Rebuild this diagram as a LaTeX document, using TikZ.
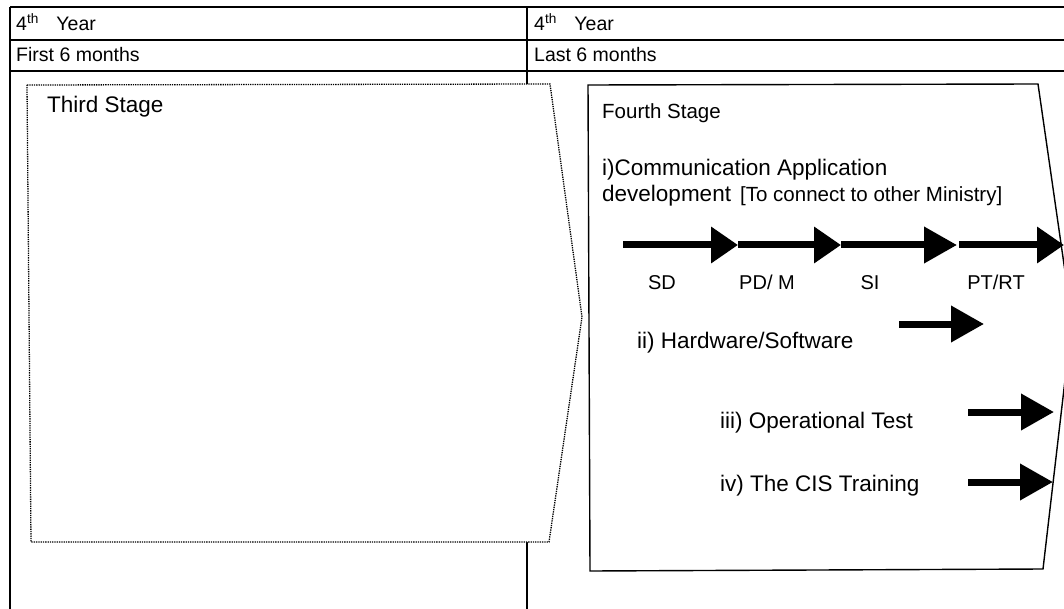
\documentclass[tikz,border=0pt]{standalone}
\usepackage{fontspec}
\setmainfont{Liberation Sans}
\usetikzlibrary{arrows.meta}
\begin{document}
\begin{tikzpicture}[x=1pt,y=-1pt,
  grid/.style={line width=1.3pt,black},
  hdr/.style={anchor=base west,inner sep=0pt,font=\fontsize{19.5}{22}\selectfont},
  big/.style={anchor=base west,inner sep=0pt,font=\fontsize{22.5}{26}\selectfont},
  mid/.style={anchor=base west,inner sep=0pt,font=\fontsize{20.5}{24}\selectfont},
  lab/.style={anchor=base,inner sep=0pt,font=\fontsize{20}{24}\selectfont},
  small/.style={anchor=base west,inner sep=0pt,font=\fontsize{20.5}{24}\selectfont},
  fat/.style={line width=7pt,-{Triangle[length=#1 0 0,width=35pt 0 0]}},
  fat/.default=27pt
]
\useasboundingbox (0,0) rectangle (1064,609);
\clip (0,0) rectangle (1064,609);
% table grid
\draw[grid] (10,7) -- (1064,7);
\draw[grid] (10,40) -- (1064,40);
\draw[grid] (10,71) -- (1064,71);
\draw[grid] (10,7) -- (10,609);
\draw[grid] (527,7) -- (527,609);
\node[hdr] (y1) at (16,31) {4\textsuperscript{th}\hspace{0.9em}Year};
\node[hdr] (m1) at (16,62) {First 6 months};
\node[hdr] (y2) at (534,31) {4\textsuperscript{th}\hspace{0.9em}Year};
\node[hdr] (m2) at (534,62) {Last 6 months};
% third stage (dotted pentagon)
\draw[densely dotted,line width=1.3pt,fill=white] (27,85) -- (550,84) -- (582,317) -- (549,542) -- (31,542) -- cycle;
\node[big] (t3) at (47,113) {Third Stage};
% fourth stage
\draw[line width=1.4pt,fill=white] (588,85) -- (1038,84) -- (1072,320) -- (1043,569) -- (590,571) -- cycle;
\node[mid] (t4) at (602,119) {Fourth Stage};
\node[big] (c1) at (602,176) {i)Communication Application};
\node[big] (c2) at (602,202) {development};
\node[small] (c3) at (740,202) {[To connect to other Ministry]};
% chain of arrows
\coordinate (a0) at (623,245);
\coordinate (a1) at (738,245);
\coordinate (a2) at (841,245);
\coordinate (a3) at (957,245);
\coordinate (a3b) at (959,245);
\coordinate (a4) at (1064,245);
\draw[fat] (a0) -- (a1);
\draw[fat] (a1) -- (a2);
\draw[fat=33pt] (a2) -- (a3);
\draw[fat] (a3b) -- (a4);
\node[lab] (sd) at (662,290) {SD};
\node[lab] (pd) at (767,290) {PD/ M};
\node[lab] (si) at (870,290) {SI};
\node[lab] (pt) at (996,290) {PT/RT};
% other items
\node[big] (h2) at (637,348) {ii) Hardware/Software};
\coordinate (b0) at (899,324);
\coordinate (b1) at (984,324);
\draw[fat=33pt] (b0) -- (b1);
\node[big] (h3) at (720,428) {iii) Operational Test};
\coordinate (c0) at (968,412);
\coordinate (c1e) at (1054,412);
\draw[fat=33pt] (c0) -- (c1e);
\node[big] (h4) at (720,491) {iv) The CIS Training};
\coordinate (d0) at (968,482);
\coordinate (d1) at (1053,482);
\draw[fat=33pt] (d0) -- (d1);
\end{tikzpicture}
\end{document}
